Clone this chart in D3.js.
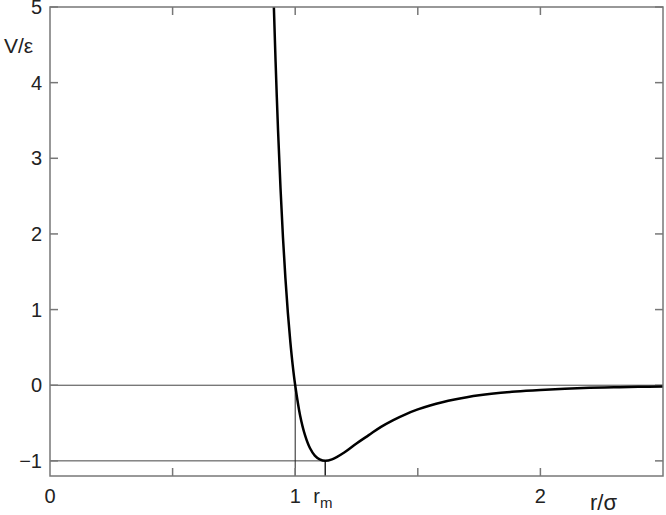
<!DOCTYPE html>
<html lang="en">
<head>
    <script src="https://d3js.org/d3.v7.min.js"></script>
    <style>
        body { margin: 0; background: #fff; font-family: "Liberation Sans", Arial, sans-serif; }
        text { fill: #222; }
    </style>
</head>
<body>
<div id="chart"></div>
<script>
    // points (r / sigma, V / epsilon)
    var rValues = [0.913, 0.92, 0.93, 0.94, 0.95, 0.96, 0.97, 0.98, 0.99, 1.0,
                   1.02, 1.04, 1.06, 1.08, 1.10, 1.1225, 1.15, 1.2, 1.25, 1.3,
                   1.35, 1.4, 1.45, 1.5, 1.55, 1.6, 1.65, 1.7, 1.75, 1.8,
                   1.9, 2.0, 2.1, 2.2, 2.3, 2.4, 2.5];
    var vValues = [5.0, 4.28, 3.37, 2.61, 1.96, 1.42, 0.96, 0.58, 0.26, 0.0,
                   -0.40, -0.66, -0.83, -0.93, -0.98, -1.0, -0.98, -0.89, -0.77, -0.66,
                   -0.55, -0.46, -0.384, -0.32, -0.268, -0.224, -0.188, -0.159, -0.134, -0.114,
                   -0.083, -0.062, -0.046, -0.035, -0.027, -0.021, -0.016];
    var xTicks = [0.5, 1, 1.5, 2];
    var xTickLabels = [{v: 0, t: "0"}, {v: 1, t: "1"}, {v: 2, t: "2"}];
    var yTicks = [-1, 0, 1, 2, 3, 4, 5];
    var rMin = 1.1225, vMin = -1;

    var W = 666, H = 515;
    var margin = {top: 7, right: 3, bottom: 39, left: 50};
    var width = W - margin.left - margin.right,
        height = H - margin.top - margin.bottom;

    var svg = d3.select("#chart").append("svg")
        .attr("width", W).attr("height", H)
        .append("g")
        .attr("transform", "translate(" + margin.left + "," + margin.top + ")");

    var x = d3.scaleLinear().domain([0, 2.5]).range([0, width]);
    var y = d3.scaleLinear().domain([-1.2, 5]).range([height, 0]);

    var axisColor = "#777";

    // reference lines
    svg.append("line")
        .attr("x1", 0).attr("x2", width)
        .attr("y1", y(0)).attr("y2", y(0))
        .attr("stroke", "#444").attr("stroke-width", 1);
    svg.append("line")
        .attr("x1", 0).attr("x2", x(rMin))
        .attr("y1", y(vMin)).attr("y2", y(vMin))
        .attr("stroke", "#444").attr("stroke-width", 1);
    svg.append("line")
        .attr("x1", x(1)).attr("x2", x(1))
        .attr("y1", height).attr("y2", y(0))
        .attr("stroke", "#222").attr("stroke-width", 1);
    svg.append("line")
        .attr("x1", x(rMin)).attr("x2", x(rMin))
        .attr("y1", height).attr("y2", y(vMin))
        .attr("stroke", "#222").attr("stroke-width", 1.5);

    // ticks, inward on all four sides
    var tk = 8;
    xTicks.forEach(function(v) {
        svg.append("line").attr("x1", x(v)).attr("x2", x(v))
            .attr("y1", height).attr("y2", height - tk)
            .attr("stroke", axisColor).attr("stroke-width", 1.5);
        svg.append("line").attr("x1", x(v)).attr("x2", x(v))
            .attr("y1", 0).attr("y2", tk)
            .attr("stroke", axisColor).attr("stroke-width", 1.5);
    });
    yTicks.forEach(function(v) {
        svg.append("line").attr("x1", 0).attr("x2", tk)
            .attr("y1", y(v)).attr("y2", y(v))
            .attr("stroke", axisColor).attr("stroke-width", 1.5);
        svg.append("line").attr("x1", width).attr("x2", width - tk)
            .attr("y1", y(v)).attr("y2", y(v))
            .attr("stroke", axisColor).attr("stroke-width", 1.5);
    });

    // the curve
    var data = rValues.map(function(r, i) { return {r: r, v: vValues[i]}; });
    var line = d3.line()
        .x(function(d) { return x(d.r); })
        .y(function(d) { return y(d.v); })
        .curve(d3.curveCatmullRom.alpha(0.5));
    svg.append("path")
        .datum(data)
        .attr("d", line)
        .attr("fill", "none")
        .attr("stroke", "#000")
        .attr("stroke-width", 2.5);

    // frame
    svg.append("rect")
        .attr("x", 0).attr("y", 0)
        .attr("width", width).attr("height", height)
        .attr("fill", "none")
        .attr("stroke", axisColor).attr("stroke-width", 1.5);

    // y labels
    svg.selectAll(".ylab")
        .data(yTicks).enter().append("text")
        .attr("x", -8)
        .attr("y", function(d) { return y(d); })
        .attr("dy", "0.36em")
        .attr("text-anchor", "end")
        .style("font-size", "20px")
        .text(function(d) { return d < 0 ? "\u2212" + Math.abs(d) : d; });

    // x labels
    svg.selectAll(".xlab")
        .data(xTickLabels).enter().append("text")
        .attr("x", function(d) { return x(d.v); })
        .attr("y", height + 27)
        .attr("text-anchor", "middle")
        .style("font-size", "20px")
        .text(function(d) { return d.t; });

    var rm = svg.append("text")
        .attr("x", x(rMin) - 12)
        .attr("y", height + 27)
        .style("font-size", "20px");
    rm.append("tspan").text("r");
    rm.append("tspan").attr("dy", 5).style("font-size", "15px").text("m");

    // axis titles
    svg.append("text")
        .attr("x", -46).attr("y", 46)
        .style("font-size", "21px")
        .text("V/\u03b5");
    svg.append("text")
        .attr("x", 540).attr("y", height + 34)
        .style("font-size", "22px")
        .text("r/\u03c3");
</script>
</body>
</html>
